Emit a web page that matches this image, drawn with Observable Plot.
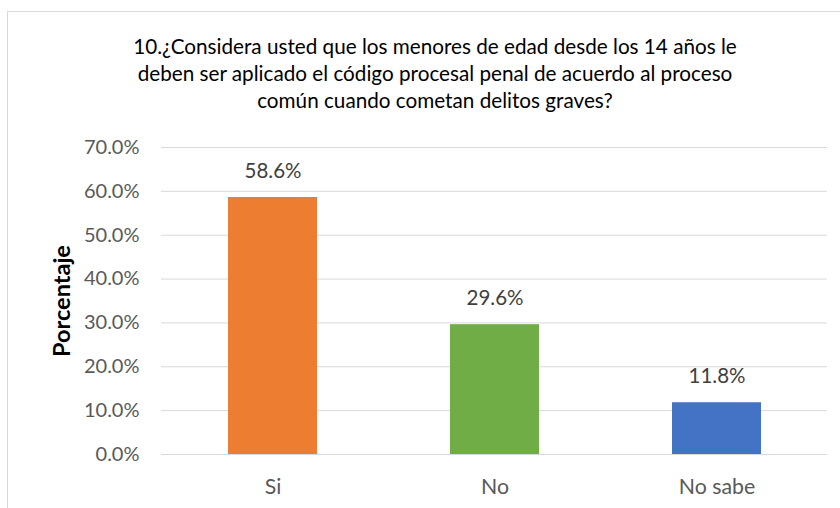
<!DOCTYPE html>
<html>
<head>
<meta charset="utf-8">
<script src="https://cdn.jsdelivr.net/npm/d3@7"></script>
<script src="https://cdn.jsdelivr.net/npm/@observablehq/plot@0.6"></script>
<style>
  html, body { margin: 0; padding: 0; background: #fff; width: 840px; height: 508px; overflow: hidden; }
  #frame { position: absolute; left: 7px; top: 11px; width: 840px; height: 520px; border: 1px solid #d9d9d9; box-sizing: border-box; }
  #title { position: absolute; left: 0; top: 33px; width: 870px; text-align: center; font-family: Lato, sans-serif; font-size: 20.7px; line-height: 27px; color: #000; }
  #chart { position: absolute; left: 0; top: 120px; }
</style>
</head>
<body>
<div id="frame"></div>
<div id="title">10.¿Considera usted que los menores de edad desde los 14 años le<br>deben ser aplicado el código procesal penal de acuerdo al proceso<br>común cuando cometan delitos graves?</div>
<div id="chart"></div>
<script>
const categories = ["Si", "No", "No sabe"];
const values = [58.6, 29.6, 11.8];
const colors = ["#ED7D31", "#70AD47", "#4472C4"];
const yTicks = [0, 10, 20, 30, 40, 50, 60, 70];

const data = categories.map((c, i) => ({cat: c, val: values[i], color: colors[i]}));
const fmt = v => v.toFixed(1) + "%";

const plot = Plot.plot({
  width: 840,
  height: 388,
  marginLeft: 161,
  marginRight: 13,
  marginTop: 27,
  marginBottom: 54,
  style: {fontFamily: "Lato, sans-serif", background: "transparent", overflow: "visible"},
  x: {domain: categories, paddingInner: 0.6, paddingOuter: 0.3, label: null},
  y: {domain: [0, 70], label: null},
  marks: [
    Plot.ruleY(yTicks, {stroke: "#d9d9d9", strokeWidth: 1}),
    Plot.barY(data, {x: "cat", y: "val", fill: "color"}),
    Plot.text(data, {x: "cat", y: "val", text: d => fmt(d.val), dy: -26, lineAnchor: "middle", fill: "#404040", fontSize: 20.5}),
    Plot.axisY({ticks: yTicks, tickFormat: fmt, tickSize: 0, tickPadding: 22, fontSize: 20, fill: "#595959", label: null}),
    Plot.axisX({tickSize: 0, tickPadding: 24, fontSize: 21.3, fill: "#595959", label: null}),
    Plot.text(["Porcentaje"], {frameAnchor: "left", dx: -99, rotate: -90, textAnchor: "middle", fontSize: 23.5, fontWeight: "bold", fill: "#000", lineAnchor: "middle"})
  ]
});
document.getElementById("chart").appendChild(plot);
</script>
</body>
</html>
